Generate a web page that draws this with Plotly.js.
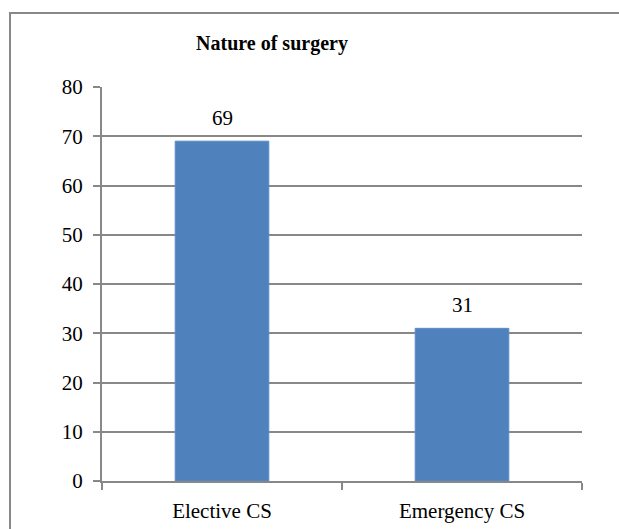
<!DOCTYPE html>
<html>
<head>
<meta charset="utf-8">
<script src="https://cdn.plot.ly/plotly-3.0.1.min.js"></script>
<style>
html,body{margin:0;padding:0;background:#fff;overflow:hidden;}
#wrap{position:relative;width:619px;height:529px;overflow:hidden;}
#chart{width:619px;height:529px;}
#frame{position:absolute;left:9px;top:12px;width:700px;height:600px;border-left:2px solid #888;border-top:2px solid #888;pointer-events:none;}
</style>
</head>
<body>
<div id="wrap"><div id="chart"></div><div id="frame"></div></div>
<script>
const categories = ["Elective CS", "Emergency CS"];
const values = [69, 31];
const yTicks = [0, 10, 20, 30, 40, 50, 60, 70, 80];
const chartTitle = "Nature of surgery";

const font = {family: "Liberation Serif, Times New Roman, serif", size: 21, color: "#000"};

const trace = {
  type: "bar",
  x: categories,
  y: values,
  marker: {color: "#4F81BD", line: {color: "#5B8BC7", width: 1}},
  width: 0.39,
  hoverinfo: "none"
};

const annotations = categories.map((c, i) => ({
  x: c, y: values[i], xref: "x", yref: "y",
  text: String(values[i]), showarrow: false,
  yanchor: "bottom", yshift: 9, font: font
}));

const layout = {
  width: 619, height: 529,
  margin: {l: 102, r: 37, t: 87, b: 48},
  paper_bgcolor: "#fff", plot_bgcolor: "#fff",
  font: font,
  showlegend: false,
  title: {text: "<b>" + chartTitle + "</b>", font: {family: font.family, size: 20, color: "#000"},
          xref: "container", x: 0.4394, xanchor: "center", yref: "container", y: 0.919, yanchor: "middle"},
  xaxis: {
    type: "category", tickson: "boundaries", ticks: "outside", ticklen: 7, tickcolor: "#888", tickwidth: 2,
    showline: true, linecolor: "#888", linewidth: 2, showgrid: false, zeroline: false,
    tickfont: font, ticklabelstandoff: 10, fixedrange: true
  },
  yaxis: {
    range: [0, 80], tickvals: yTicks, ticks: "outside", ticklen: 7, tickcolor: "#888", tickwidth: 2,
    showline: true, linecolor: "#888", linewidth: 2, showgrid: true, gridcolor: "#888", gridwidth: 2,
    zeroline: false, tickfont: font, ticklabelstandoff: 6, fixedrange: true
  },
  annotations: annotations
};

Plotly.newPlot("chart", [trace], layout, {displayModeBar: false, staticPlot: true});
</script>
</body>
</html>
